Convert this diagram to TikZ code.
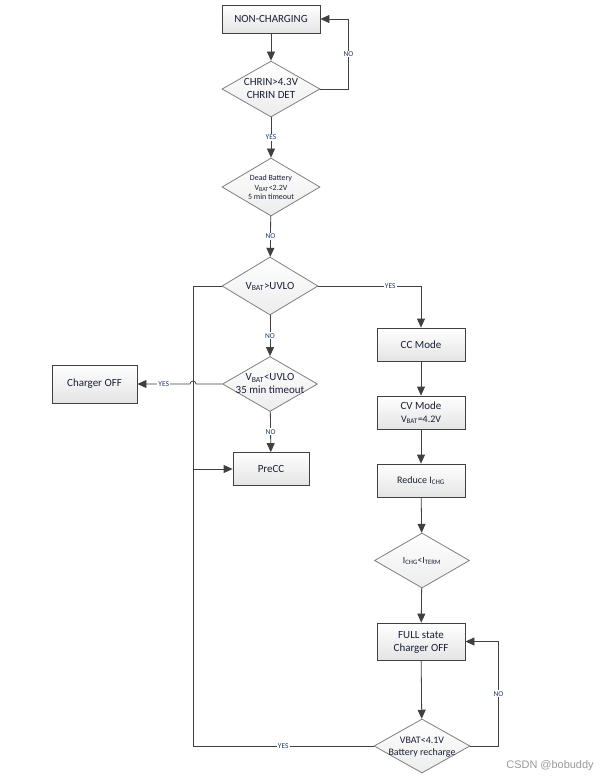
\documentclass[tikz,border=0pt]{standalone}
\usepackage{fontspec}
\setmainfont{Carlito}
\newfontfamily\markfont{Liberation Sans}
\usetikzlibrary{shapes.geometric,arrows.meta,calc}
\definecolor{txt}{HTML}{1A1F36}
\definecolor{tagblue}{HTML}{1F3A6E}
\definecolor{edge}{HTML}{404040}
\definecolor{rim}{HTML}{7F7F7F}
\definecolor{boxgray}{HTML}{E4E4E4}
\newcommand{\dtext}[2][]{\makebox[0pt]{\smash{\raisebox{-0.3em}{#1\begin{tabular}{@{}c@{}}#2\end{tabular}}}}}
\newcommand{\vbat}{V\textsubscript{BAT}}
\begin{document}
\begin{tikzpicture}[x=1bp,y=-1bp]
\tikzstyle{every node}+=[inner sep=0pt, text=txt, align=center, font=\fontsize{11}{13}\selectfont]
\tikzstyle{box}=[draw=edge, line width=0.8bp, top color=white, bottom color=boxgray, minimum width=88bp, minimum height=33bp]
\tikzstyle{test}=[diamond, aspect=1.7, draw=rim, line width=0.8bp, top color=white, bottom color=boxgray!70]
\tikzstyle{flow}=[draw=edge, line width=0.8bp, -{Triangle[width=8bp,length=9bp]}]
\tikzstyle{wire}=[draw=edge, line width=0.8bp]
\tikzstyle{tag}=[fill=white, inner sep=1bp, text=tagblue, font=\fontsize{7.5}{8}\selectfont]
\useasboundingbox (0,0) rectangle (614,783);
% left column
\node[box, minimum width=98bp, minimum height=28bp] (nonchg) at (271,19) {NON-CHARGING};
\node[test, minimum width=98bp, minimum height=56bp] (chrin) at (271,89) {\dtext{CHRIN>4.3V\\CHRIN DET}};
\node[test, minimum width=98bp, minimum height=58bp] (dead) at (271,187) {\dtext[\fontsize{8}{9.5}\selectfont]{Dead Battery\\\vbat<2.2V\\5 min timeout}};
\node[test, minimum width=96bp, minimum height=58bp] (uvlo) at (270,286) {\dtext{\vbat>UVLO}};
\node[test, minimum width=95bp, minimum height=55bp] (lowbat) at (270,384) {\dtext{\vbat<UVLO\\35 min timeout}};
\node[box, minimum width=85bp, minimum height=38bp] (off) at (94.5,384) {Charger OFF};
\node[box, minimum width=76bp] (precc) at (271,469) {PreCC};
% right column
\node[box] (cc) at (421,344.5) {CC Mode};
\node[box] (cv) at (421,412.5) {\dtext{CV Mode\\{\fontsize{10}{12}\selectfont\vbat=4.2V}}};
\node[box] (reduce) at (421,480.5) {\fontsize{10}{12}\selectfont Reduce I\textsubscript{CHG}};
\node[test, minimum width=95bp, minimum height=55bp] (term) at (422,560.5) {\dtext[\fontsize{9.5}{11}\selectfont]{I\textsubscript{CHG}<I\textsubscript{TERM}}};
\node[box, minimum height=37bp] (full) at (421,641.5) {\dtext{FULL state\\Charger OFF}};
\node[test, minimum width=96bp, minimum height=54bp] (rechg) at (422,746) {\dtext[\fontsize{10}{12}\selectfont]{VBAT<4.1V\\Battery recharge}};
\coordinate (railtop) at (193,286);
% connectors
\draw[flow] (nonchg) -- (chrin);
\draw[flow] (chrin.east) -- ++(28,0) |- node[tag, pos=0.25] {NO} (nonchg.east);
\draw[flow] (chrin) -- node[tag] {YES} (dead);
\draw[flow] (dead) -- node[tag] {NO} (uvlo);
\draw[flow] (uvlo) -- node[tag] {NO} (lowbat);
\draw[flow] (lowbat) -- node[tag] {NO} (precc);
\draw[flow] (lowbat.west) -- ($(lowbat.west -| railtop)+(3,0)$) arc[start angle=0, end angle=-180, radius=3] -- node[tag] {YES} (off.east);
\draw[flow] (uvlo.east) -| node[tag, pos=0.35] {YES} (cc.north);
\draw[flow] (cc) -- (cv);
\draw[flow] (cv) -- (reduce);
\draw[flow] (reduce) -- (term);
\draw[flow] (term) -- (full);
\draw[flow] (full) -- (rechg);
\draw[flow] (rechg.east) -- ++(28,0) |- node[tag, pos=0.25] {NO} (full.east);
\draw[wire] (rechg.west) -- node[tag] {YES} (rechg.west -| railtop) -- (railtop) -- (uvlo.west);
\draw[flow] (precc.west -| railtop) -- (precc.west);
\node[text=black!40, font=\markfont\fontsize{11}{13}\selectfont] (mark) at (550,766) {CSDN @bobuddy};
\end{tikzpicture}
\end{document}
